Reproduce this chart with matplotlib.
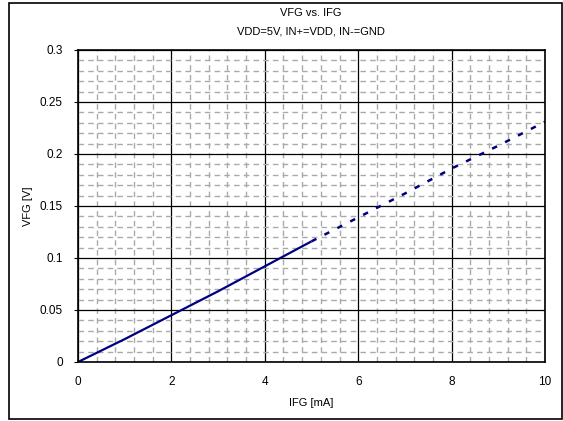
import matplotlib
matplotlib.use("Agg")
import matplotlib.pyplot as plt
from matplotlib.patches import Rectangle
import numpy as np

plt.rcParams['font.family'] = ['Liberation Sans', 'DejaVu Sans']

ifg_solid = [0, 1, 2, 3, 4, 5]
vfg_solid = [0, 0.022, 0.045, 0.068, 0.092, 0.116]
ifg_dash = [5, 6, 7, 8, 9, 10]
vfg_dash = [0.116, 0.139, 0.162, 0.186, 0.208, 0.231]
xticks = [0, 2, 4, 6, 8, 10]
yticks = [0, 0.05, 0.1, 0.15, 0.2, 0.25, 0.3]
ytick_labels = ['0', '0.05', '0.1', '0.15', '0.2', '0.25', '0.3']

fig = plt.figure(figsize=(5.63, 4.21), dpi=100)
fig.patches.append(Rectangle((9/563, 2/421), 553/563, 416/421, transform=fig.transFigure,
                             fill=False, edgecolor='black', linewidth=1.2))
ax = fig.add_axes([78/563, (421-362)/421, (545-78)/563, (362-50)/421])

ax.set_xlim(0, 10)
ax.set_ylim(0, 0.3)
ax.set_xticks(xticks)
ax.set_xticklabels([str(t) for t in xticks])
ax.set_yticks(yticks)
ax.set_yticklabels(ytick_labels)
ax.set_xticks(np.arange(0, 10.01, 0.4), minor=True)
ax.set_yticks(np.arange(0, 0.3001, 0.01), minor=True)

ax.grid(which='minor', color='#aaaaaa', linestyle=(0, (4, 3)), linewidth=1.0)
ax.grid(which='major', color='black', linestyle='-', linewidth=0.9)
ax.set_axisbelow(True)

ax.tick_params(axis='x', which='both', length=0, pad=10, labelsize=8.5)
ax.tick_params(axis='y', which='major', length=3, direction='out', pad=8, labelsize=8.5)
ax.tick_params(axis='y', which='minor', length=0)

for s in ax.spines.values():
    s.set_linewidth(1.2)
    s.set_color('black')

ax.plot(ifg_solid, vfg_solid, color='#000080', linewidth=1.6, solid_capstyle='butt')
ax.plot(ifg_dash, vfg_dash, color='#000080', linewidth=1.8, linestyle=(0, (2.2, 3.6)))

ax.set_xlabel('IFG [mA]', fontsize=8, labelpad=7)
ax.set_ylabel('VFG [V]', fontsize=8, labelpad=5)

fig.text(311/563, 1 - 13/421, 'VFG vs. IFG', ha='center', va='center', fontsize=8)
fig.text(311/563, 1 - 31/421, 'VDD=5V, IN+=VDD, IN-=GND', ha='center', va='center', fontsize=8)

fig.savefig('out.png', dpi=100)
